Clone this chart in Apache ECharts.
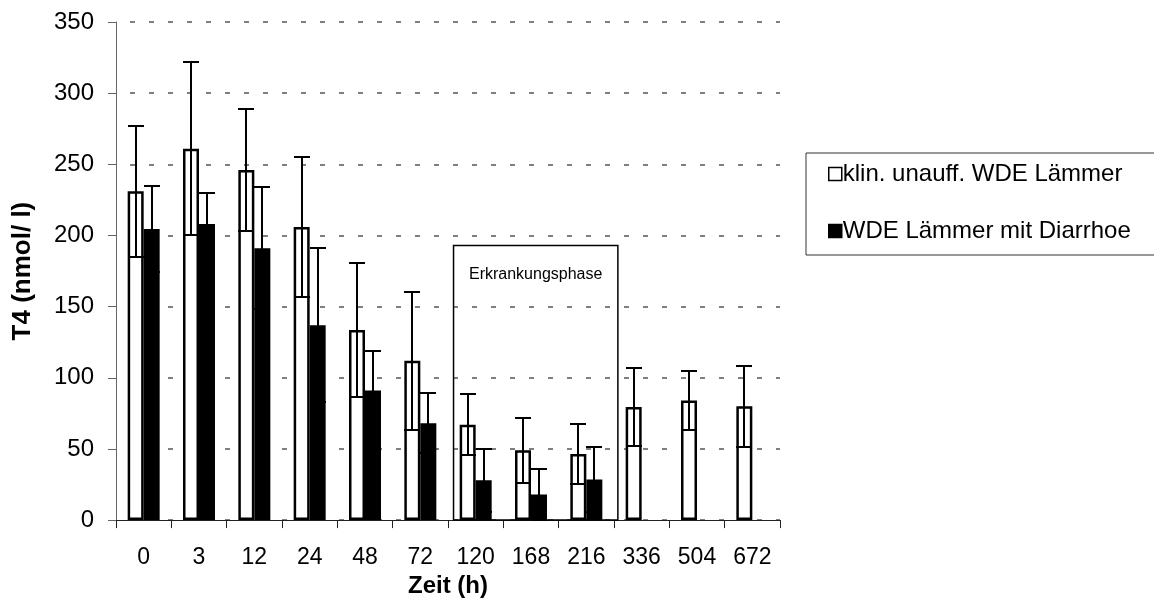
<!DOCTYPE html>
<html>
<head>
<meta charset="utf-8">
<script src="https://cdn.jsdelivr.net/npm/echarts@6/dist/echarts.min.js"></script>
<style>html,body{margin:0;padding:0;background:#fff}#c{width:1154px;height:603px}</style>
</head>
<body>
<div id="c"></div>
<script>
const categories = ['0','3','12','24','48','72','120','168','216','336','504','672'];
const whiteMean = [231, 261, 246, 206, 133.5, 112, 67, 49, 46.5, 79.5, 84, 80];
const whiteSD   = [46, 61, 43, 49, 47, 48.5, 21.5, 23, 21, 27.5, 21, 28.5];
const blackMean = [204.5, 208, 191, 137, 91, 68, 28, 18, 28.5, null, null, null];
const blackSD   = [30.5, 22, 43, 54, 27.5, 21, 22, 18, 23, null, null, null];
const seriesNames = ['klin. unauff. WDE Lämmer', 'WDE Lämmer mit Diarrhoe'];
const phaseLabel = 'Erkrankungsphase';
const phaseRange = [6.1, 9.07];   // in category-index units
const phaseTop = 193;
const yTicks = [0, 50, 100, 150, 200, 250, 300, 350];

const FONT = "'Liberation Sans', Arial, sans-serif";
const BAR_W = 16;

function errData(mean, sd) {
  const out = [];
  mean.forEach((m, i) => { if (m != null && sd[i] != null) out.push([i, m, sd[i]]); });
  return out;
}
function errRender(offset) {
  return function (params, api) {
    const i = api.value(0), m = api.value(1), s = api.value(2);
    const c = api.coord([i, m]);
    const x = Math.round(c[0] + offset);
    const yt = Math.round(api.coord([i, m + s])[1]);
    const yb = Math.round(api.coord([i, m - s])[1]);
    const st = { stroke: '#000', lineWidth: 2 };
    return {
      type: 'group',
      children: [
        { type: 'line', shape: { x1: x, y1: yb, x2: x, y2: yt }, style: st },
        { type: 'line', shape: { x1: x - 8, y1: yt, x2: x + 8, y2: yt }, style: st },
        { type: 'line', shape: { x1: x - 8, y1: yb, x2: x + 8, y2: yb }, style: st }
      ]
    };
  };
}

const chart = echarts.init(document.getElementById('c'));
chart.setOption({
  animation: false,
  textStyle: { fontFamily: FONT },
  grid: { left: 116, right: 374, top: 22, bottom: 79 },
  legend: {
    left: 806, top: 153,
    orient: 'vertical',
    padding: [9, 60, 12, 22],
    itemGap: 33,
    itemWidth: 13, itemHeight: 13,
    icon: 'rect',
    borderColor: '#333', borderWidth: 1,
    textStyle: { fontFamily: FONT, fontSize: 24, color: '#000', padding: [0, 0, 0, -4] },
    data: [
      { name: seriesNames[0], itemStyle: { color: '#fff', borderColor: '#000', borderWidth: 1.5 } },
      { name: seriesNames[1], itemStyle: { color: '#000', borderColor: '#000', borderWidth: 1.5 } }
    ]
  },
  xAxis: [{
    type: 'category',
    data: categories,
    name: 'Zeit (h)',
    nameLocation: 'middle',
    nameGap: 50,
    nameTextStyle: { fontFamily: FONT, fontSize: 24, fontWeight: 'bold', color: '#000' },
    axisLine: { lineStyle: { color: '#222', width: 1 } },
    axisTick: { show: true, length: 8, lineStyle: { color: '#222' } },
    axisLabel: { margin: 26, fontFamily: FONT, fontSize: 23, color: '#000' }
  }, {
    type: 'value', min: 0, max: categories.length, show: false
  }],
  yAxis: {
    type: 'value',
    min: 0, max: 350, interval: 50,
    name: 'T4 (nmol/ l)',
    nameLocation: 'middle',
    nameGap: 80,
    nameTextStyle: { fontFamily: FONT, fontSize: 26, fontWeight: 'bold', color: '#000' },
    axisLine: { show: true, lineStyle: { color: '#666', width: 1 } },
    axisTick: { show: true, length: 8, lineStyle: { color: '#666' } },
    axisLabel: { margin: 22, fontFamily: FONT, fontSize: 24, color: '#000',
      formatter: v => yTicks.indexOf(v) >= 0 ? String(v) : '' },
    splitLine: { show: true, lineStyle: { color: '#555', width: 1.5, type: [5, 14], dashOffset: -14 } }
  },
  series: [
    {
      name: seriesNames[0], type: 'bar', data: whiteMean,
      barWidth: BAR_W, barGap: '0%',
      itemStyle: { color: '#fff', borderColor: '#000', borderWidth: 2.5 }
    },
    {
      name: seriesNames[1], type: 'bar', data: blackMean,
      barWidth: BAR_W, barGap: '0%',
      itemStyle: { color: '#000', borderColor: '#000', borderWidth: 2.5 }
    },
    {
      type: 'custom', name: 'errW', z: 5, silent: true,
      renderItem: errRender(-BAR_W / 2),
      data: errData(whiteMean, whiteSD),
      encode: { x: 0, y: 1 }
    },
    {
      type: 'custom', name: 'errB', z: 5, silent: true,
      renderItem: errRender(BAR_W / 2),
      data: errData(blackMean, blackSD),
      encode: { x: 0, y: 1 }
    },
    {
      type: 'scatter', xAxisIndex: 1, silent: true, symbolSize: 0,
      data: [[phaseRange[0], 0]],
      markArea: {
        silent: true,
        itemStyle: { color: 'rgba(0,0,0,0)', borderColor: '#000', borderWidth: 1.5 },
        label: { show: true, position: 'insideTop', distance: 22, color: '#000',
          fontFamily: FONT, fontSize: 16 },
        data: [[{ name: phaseLabel, coord: [phaseRange[0], phaseTop] }, { coord: [phaseRange[1], 0] }]]
      }
    }
  ]
});
</script>
</body>
</html>
